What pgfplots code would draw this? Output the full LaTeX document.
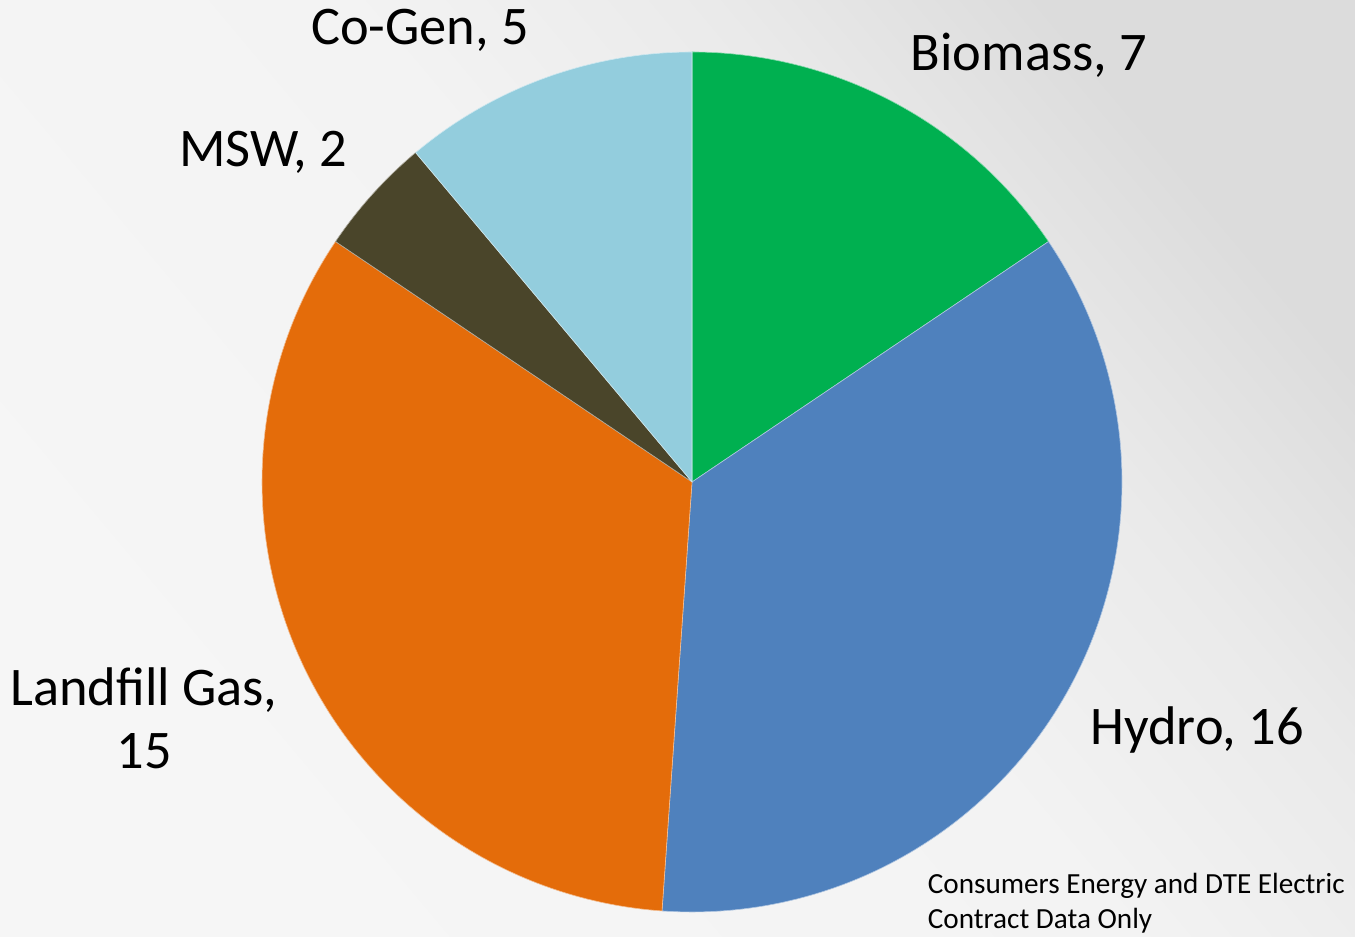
\documentclass[border=0pt]{standalone}
\usepackage{pgfplots}
\pgfplotsset{compat=1.18}
\usepackage{fontspec}
\setmainfont{Carlito}
\definecolor{cBio}{HTML}{00B050}
\definecolor{cHyd}{HTML}{4F81BD}
\definecolor{cLan}{HTML}{E46C0A}
\definecolor{cMsw}{HTML}{4A452A}
\definecolor{cCog}{HTML}{93CDDD}
\definecolor{bgA}{HTML}{F6F6F6}
\definecolor{bgB}{HTML}{F3F3F3}
\definecolor{bgM}{HTML}{EAEAEA}
\definecolor{bgC}{HTML}{DCDCDC}
\pgfdeclarehorizontalshading{bgshade}{100bp}{color(0bp)=(bgA); color(25bp)=(bgA); color(52bp)=(bgB); color(64bp)=(bgM); color(75bp)=(bgC); color(100bp)=(bgC)}
% data (values)
\def\vBio{7}\def\vHyd{16}\def\vLan{15}\def\vMsw{2}\def\vCog{5}
\pgfmathsetmacro{\tot}{\vBio+\vHyd+\vLan+\vMsw+\vCog}
\pgfmathsetmacro{\aA}{90}
\pgfmathsetmacro{\aB}{\aA-360*\vBio/\tot}
\pgfmathsetmacro{\aC}{\aB-360*\vHyd/\tot}
\pgfmathsetmacro{\aD}{\aC-360*\vLan/\tot}
\pgfmathsetmacro{\aE}{\aD-360*\vMsw/\tot}
\pgfmathsetmacro{\aF}{\aE-360*\vCog/\tot}
\def\cx{692}\def\cy{455}\def\rr{430}
\begin{document}
\begin{tikzpicture}
\begin{axis}[
  x=0.25pt, y=0.25pt,
  xmin=0, xmax=1355, ymin=0, ymax=937,
  hide axis, clip=false,
  every axis plot/.append style={line join=round},
]
\addplot[draw=none, shading=bgshade, shading angle=40]
  coordinates {(0,0) (1355,0) (1355,937) (0,937)} -- cycle;
\addplot[fill=cBio, draw=white!55!cBio, line width=0.15pt, domain=\aB:\aA, samples=80]
  ({\cx+\rr*cos(x)},{\cy+\rr*sin(x)}) -- (axis cs:\cx,\cy) -- cycle;
\addplot[fill=cHyd, draw=white!55!cHyd, line width=0.15pt, domain=\aC:\aB, samples=120]
  ({\cx+\rr*cos(x)},{\cy+\rr*sin(x)}) -- (axis cs:\cx,\cy) -- cycle;
\addplot[fill=cLan, draw=white!55!cLan, line width=0.15pt, domain=\aD:\aC, samples=120]
  ({\cx+\rr*cos(x)},{\cy+\rr*sin(x)}) -- (axis cs:\cx,\cy) -- cycle;
\addplot[fill=cMsw, draw=white!55!cMsw, line width=0.15pt, domain=\aE:\aD, samples=40]
  ({\cx+\rr*cos(x)},{\cy+\rr*sin(x)}) -- (axis cs:\cx,\cy) -- cycle;
\addplot[fill=cCog, draw=white!55!cCog, line width=0.15pt, domain=\aF:\aE, samples=60]
  ({\cx+\rr*cos(x)},{\cy+\rr*sin(x)}) -- (axis cs:\cx,\cy) -- cycle;
\begin{scope}[every node/.style={font=\fontsize{13.6pt}{15.8pt}\selectfont, inner sep=0pt}]
\node at (axis cs:420,907) {Co-Gen, 5};
\node at (axis cs:1029,882) {Biomass, 7};
\node at (axis cs:263,785) {MSW, 2};
\node[align=center] at (axis cs:144,219) {Landfill Gas,\\15};
\node at (axis cs:1197,207) {Hydro, 16};
\end{scope}
\node[align=left, anchor=west, inner sep=0pt, font=\fontsize{7.3pt}{8.75pt}\selectfont] at (axis cs:927,34) {Consumers Energy and DTE Electric\\Contract Data Only};
\end{axis}
\end{tikzpicture}
\end{document}
